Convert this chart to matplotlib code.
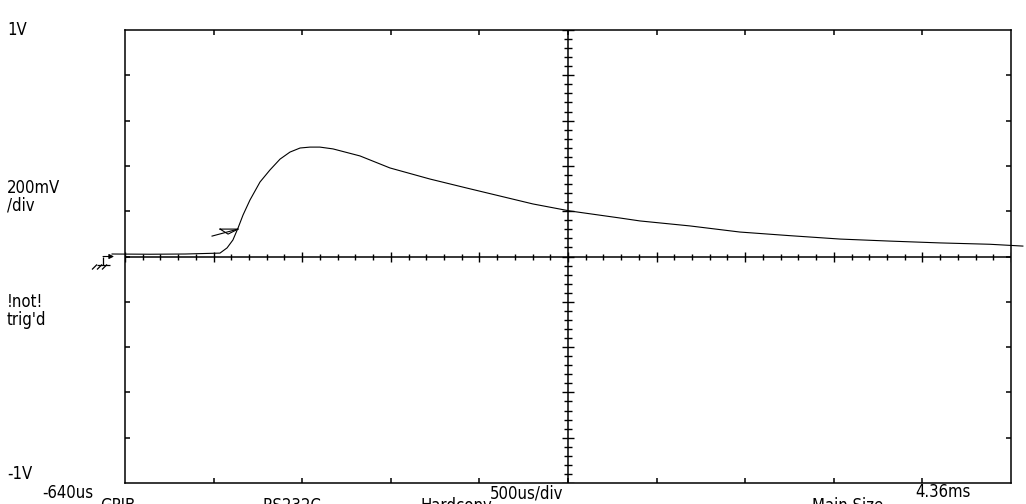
import numpy as np
import matplotlib
matplotlib.use("Agg")
import matplotlib.pyplot as plt
import matplotlib.font_manager as fm
from matplotlib.collections import LineCollection

# trace: time in us, level in mV
time_us = [-713, -500, -300, -104, -64, -31, -2, 26, 65, 122, 178, 235, 291,
           348, 404, 460, 534, 686, 855, 1081, 1290, 1476, 1662, 1871, 2153,
           2266, 2548, 2830, 3112, 3395, 3677, 3959, 4241, 4427]
level_mv = [11, 10, 11, 15, 38, 73, 126, 183, 249, 329, 382, 430, 461,
            479, 483, 483, 475, 444, 391, 342, 302, 267, 232, 201, 170,
            157, 135, 108, 92, 77, 68, 60, 54, 46]

t_left, t_right = -640, 4360
us_per_div = 500
v_bottom, v_top = -1000, 1000
mv_per_div = 200
trig_time, trig_level = -2, 121
ground_time, ground_level = -764, 0

names = {f.name for f in fm.fontManager.ttflist}
if 'Liberation Sans Narrow' in names:
    font = dict(family=['Liberation Sans Narrow', 'DejaVu Sans'], size=14)
else:
    font = dict(family='DejaVu Sans', stretch='condensed', size=12)

W, H = 1026, 504
fig = plt.figure(figsize=(W / 100, H / 100), dpi=100)
ax = fig.add_axes([125 / W, (H - 483) / H, 886 / W, 453 / H])
ax.set_xlim(t_left, t_right)
ax.set_ylim(v_bottom, v_top)

# size of one screen pixel in data units
px_t = (t_right - t_left) / 886
px_v = (v_top - v_bottom) / 453

for s in ax.spines.values():
    s.set_linewidth(1.1)
ax.set_xticks(np.arange(t_left + us_per_div, t_right, us_per_div))
ax.set_yticks(np.arange(v_bottom + mv_per_div, v_top, mv_per_div))
ax.tick_params(direction='in', length=3.5, width=1.1, top=True, right=True,
               labelbottom=False, labelleft=False)

# centre cross with graticule ticks
t_mid = (t_left + t_right) / 2
ax.axhline(0, color='black', lw=1.1)
ax.axvline(t_mid, color='black', lw=1.1)
segs = []
for i, t in enumerate(np.arange(t_left, t_right + 1, us_per_div / 5)):
    h = 5 if i % 5 == 0 else 3
    segs.append([(t, -h * px_v), (t, h * px_v)])
for i, v in enumerate(np.arange(v_bottom, v_top + 1, mv_per_div / 5)):
    h = 6 if i % 5 == 0 else 4
    segs.append([(t_mid - h * px_t, v), (t_mid + h * px_t, v)])
ax.add_collection(LineCollection(segs, colors='black', linewidths=1.0))

ax.plot(time_us, level_mv, color='black', lw=0.8, clip_on=False)

# ground reference symbol
g = lambda dx, dy: (ground_time + dx * px_t, ground_level + dy * px_v)
gsegs = [[g(0, 0), g(0, -8)], [g(-6, -8), g(7, -8)],
         [g(-6, -8), g(-11, -13)], [g(-1, -8), g(-6, -13)], [g(4, -8), g(-1, -13)]]
ax.add_collection(LineCollection(gsegs, colors='black', linewidths=0.9, clip_on=False))
ax.annotate('', xy=g(11, 0), xytext=g(0, 0), annotation_clip=False,
            arrowprops=dict(arrowstyle='-|>', lw=0.8, color='black',
                            mutation_scale=7, shrinkA=0, shrinkB=0))

# trigger level marker
tr = lambda dx, dy: (trig_time + dx * px_t, trig_level + dy * px_v)
ax.plot(*zip(tr(-26, -7), tr(0, 0)), color='black', lw=0.8)
ax.plot(*zip(tr(-18, 0), tr(0, 0), tr(-10, -5), tr(-18, 0)), color='black', lw=0.8)

def label(x, y, s, va='center'):
    fig.text(x / W, 1 - y / H, s, ha='left', va=va, color='black', **font)

label(7, 30, '1V')
label(7, 188, '200mV')
label(7, 205, '/div')
label(7, 302, '!not!')
label(7, 320, "trig'd")
label(7, 474, '-1V')
label(42, 493, '-640us')
label(490, 493, '500us/div')
label(915, 492, '4.36ms')
for x, s in [(100, 'GPIB'), (262, 'RS232C'), (420, 'Hardcopy'), (812, 'Main Size')]:
    label(x, 497, s, va='top')

fig.savefig('out.png', dpi=100, facecolor='white')
